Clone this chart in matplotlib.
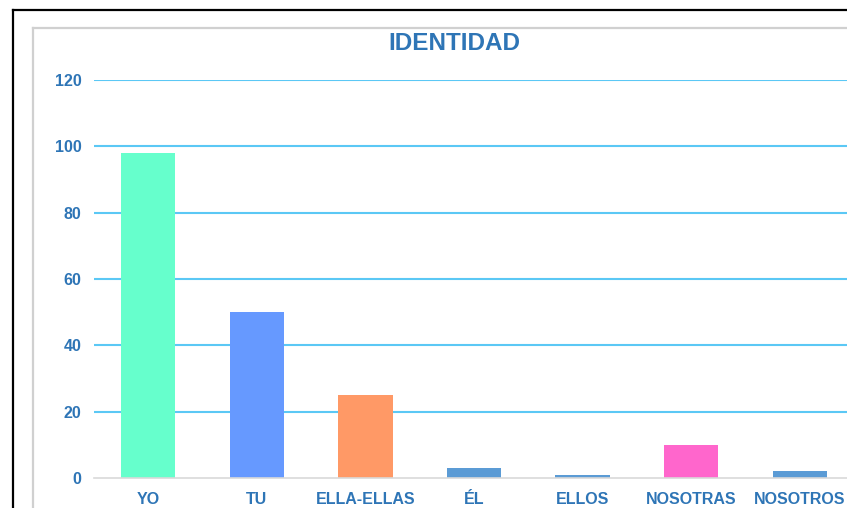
import matplotlib.pyplot as plt
from matplotlib.lines import Line2D

# datos
categorias = ["YO", "TU", "ELLA-ELLAS", "ÉL", "ELLOS", "NOSOTRAS", "NOSOTROS"]
valores = [98, 50, 25, 3, 1, 10, 2]
colores = ["#66FFCC", "#6699FF", "#FF9966", "#5B9BD5", "#5B9BD5", "#FF66CC", "#5B9BD5"]
yticks = [0, 20, 40, 60, 80, 100, 120]

azul = "#2E75B6"
plt.rcParams["font.family"] = ["Liberation Sans", "DejaVu Sans"]

fig = plt.figure(figsize=(8.47, 5.08), dpi=100)
W, H = 847, 508

# marcos de la captura (solo lados superior e izquierdo visibles)
def marco(x0, y0, color):
    fig.add_artist(Line2D([x0 / W, x0 / W], [0, 1 - y0 / H], color=color, linewidth=1.6))
    fig.add_artist(Line2D([x0 / W, 1], [1 - y0 / H, 1 - y0 / H], color=color, linewidth=1.6))

marco(13, 10, "black")
marco(33, 28, "#D0D0D0")

ax = fig.add_axes([94 / W, 30 / H, 760 / W, 398 / H])
x = range(len(categorias))
ax.bar(x, valores, width=0.5, color=colores, zorder=3)

ax.set_xlim(-0.5, 6.5)
ax.set_ylim(0, 120)
ax.set_yticks(yticks)
ax.set_xticks(list(x))
ax.set_xticklabels(categorias)
ax.yaxis.grid(True, color="#5BC8F5", linewidth=1.5, zorder=0)
ax.set_axisbelow(True)
for s in ["top", "right", "left"]:
    ax.spines[s].set_visible(False)
ax.spines["bottom"].set_color("#D9D9D9")
ax.spines["bottom"].set_linewidth(1.2)
ax.spines["bottom"].set_zorder(4)
ax.tick_params(axis="both", length=0, labelcolor=azul, labelsize=11.5)
ax.tick_params(axis="y", pad=9)
ax.tick_params(axis="x", pad=10)
for lbl in ax.get_xticklabels() + ax.get_yticklabels():
    lbl.set_fontweight("bold")
# sin linea de grid en 0
ax.get_ygridlines()[0].set_visible(False)

fig.text(454 / W, 1 - 44 / H, "IDENTIDAD", ha="center", va="center",
         fontsize=17.5, fontweight="bold", color=azul)

fig.savefig("out.png", dpi=100)
